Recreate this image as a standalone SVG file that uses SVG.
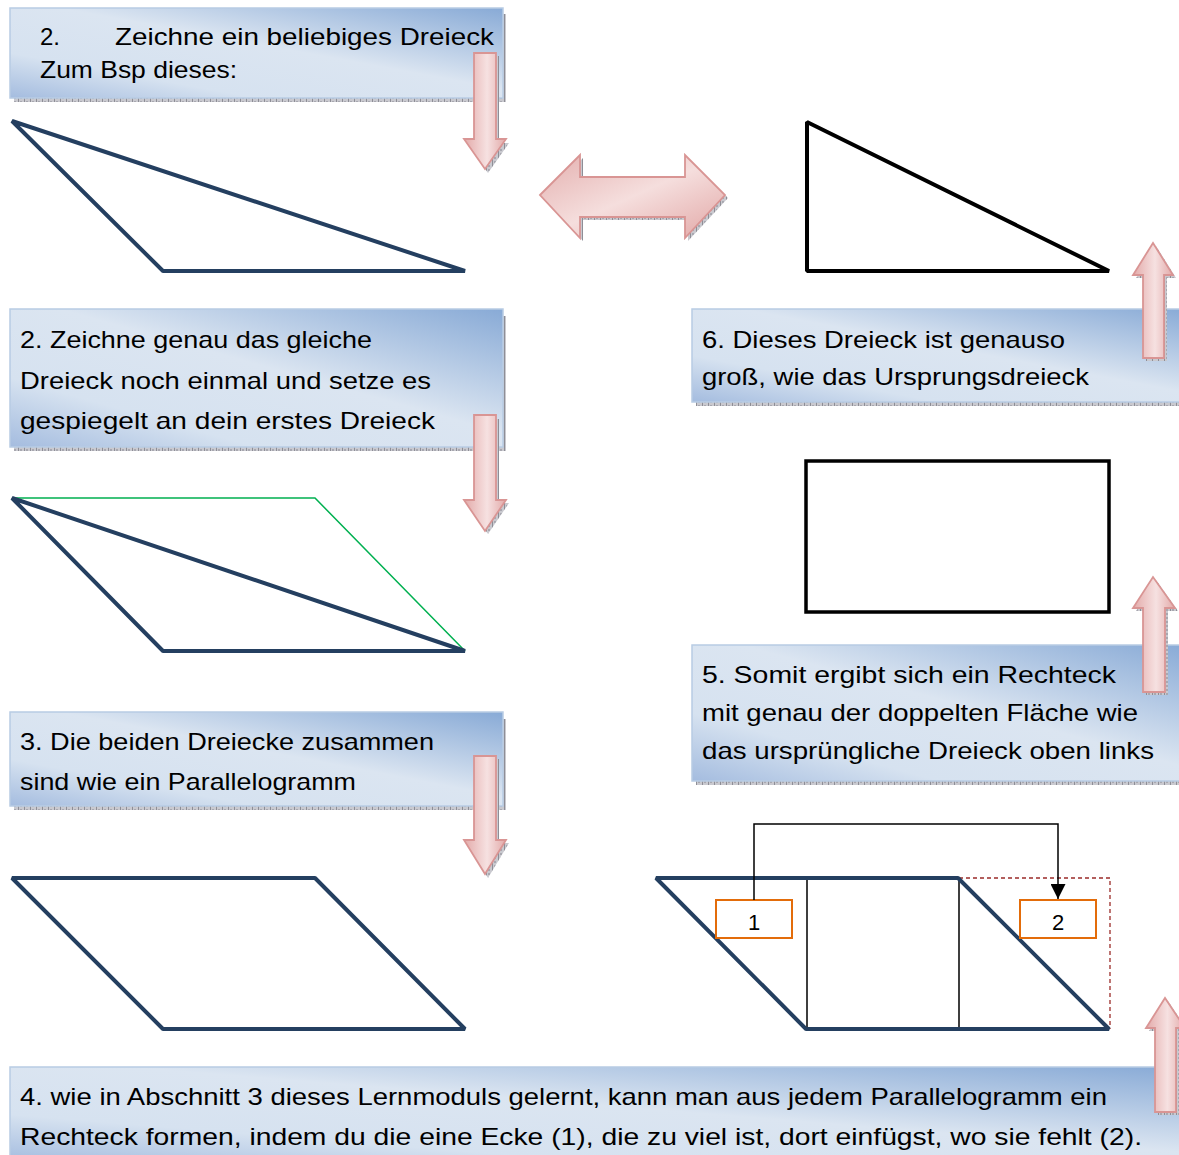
<svg xmlns="http://www.w3.org/2000/svg" width="1179" height="1155" viewBox="0 0 1179 1155">
  <defs>
    <linearGradient id="boxFill" x1="1" y1="0" x2="0" y2="1">
      <stop offset="0" stop-color="#88aad6"/>
      <stop offset="0.45" stop-color="#dbe5f1"/>
      <stop offset="0.75" stop-color="#d6e2f0"/>
      <stop offset="1" stop-color="#a4bcdf"/>
    </linearGradient>
    <linearGradient id="arrowV" x1="0" y1="0" x2="1" y2="0">
      <stop offset="0" stop-color="#e3aaa9"/>
      <stop offset="0.55" stop-color="#f6e1e1"/>
      <stop offset="1" stop-color="#e2a9a8"/>
    </linearGradient>
    <linearGradient id="arrowH" x1="0" y1="0" x2="1" y2="1">
      <stop offset="0" stop-color="#e4b0af"/>
      <stop offset="0.5" stop-color="#f5dedd"/>
      <stop offset="1" stop-color="#e2a7a6"/>
    </linearGradient>
    <pattern id="shadowTex" width="6" height="4" patternUnits="userSpaceOnUse">
      <rect width="6" height="4" fill="#c9c9cf"/>
      <rect x="0" y="0" width="1" height="4" fill="#8e8e96"/>
      <rect x="2" y="1" width="2" height="2" fill="#a8a8b0"/>
    </pattern>
    <marker id="arrowHead" viewBox="0 0 10 10" refX="10" refY="5" markerWidth="15" markerHeight="15" markerUnits="userSpaceOnUse" orient="auto">
      <path d="M0,0 L10,5 L0,10 Z" fill="#000"/>
    </marker>
  </defs>
  <style>
    .box { fill: url(#boxFill); stroke: #b8cce4; stroke-width: 1.5; }
    .shadow { fill: url(#shadowTex); }
    .txt { font-family: "Liberation Sans", "Noto Sans", sans-serif; font-size: 24px; fill: #000; }
    .narrow { font-family: "Liberation Sans Narrow", "Liberation Sans", sans-serif; font-size: 24px; fill: #000; }
    .arrow { fill: url(#arrowV); stroke: #d99594; stroke-width: 1.8; stroke-linejoin: miter; }
    .arrowH { fill: url(#arrowH); stroke: #d99594; stroke-width: 1.8; }
    .navy { fill: none; stroke: #243f60; stroke-width: 4; stroke-linejoin: bevel; }
    .blk { fill: none; stroke: #000; stroke-width: 4; stroke-linejoin: bevel; }
    .thin { fill: none; stroke: #000; stroke-width: 1.5; }
    .label { fill: #fff; stroke: #e36c0a; stroke-width: 2; }
    .num { font-family: "Liberation Sans", sans-serif; font-size: 22px; fill: #000; text-anchor: middle; }
  </style>

  <rect width="1179" height="1155" fill="#fff"/>

  <!-- Step boxes -->
  <g id="box-step1">
    <rect class="shadow" x="14" y="97" width="492" height="5"/>
    <rect class="shadow" x="502" y="14" width="4" height="88"/>
    <rect class="box" x="10" y="8" width="493" height="90"/>
    <text class="txt" x="40" y="45">2.</text>
    <text class="txt" x="115" y="45" textLength="379" lengthAdjust="spacingAndGlyphs">Zeichne ein beliebiges Dreieck</text>
    <text class="txt" x="40" y="78" textLength="197" lengthAdjust="spacingAndGlyphs">Zum Bsp dieses:</text>
  </g>

  <g id="box-step2">
    <rect class="shadow" x="14" y="446" width="492" height="5"/>
    <rect class="shadow" x="502" y="316" width="4" height="135"/>
    <rect class="box" x="10" y="309" width="493" height="138"/>
    <text class="txt" x="20" y="348" textLength="352" lengthAdjust="spacingAndGlyphs">2. Zeichne genau das gleiche</text>
    <text class="txt" x="20" y="389" textLength="411" lengthAdjust="spacingAndGlyphs">Dreieck noch einmal und setze es</text>
    <text class="txt" x="20" y="429" textLength="415" lengthAdjust="spacingAndGlyphs">gespiegelt an dein erstes Dreieck</text>
  </g>

  <g id="box-step3">
    <rect class="shadow" x="14" y="805" width="492" height="5"/>
    <rect class="shadow" x="502" y="719" width="4" height="91"/>
    <rect class="box" x="10" y="712" width="493" height="94"/>
    <text class="txt" x="20" y="750" textLength="414" lengthAdjust="spacingAndGlyphs">3. Die beiden Dreiecke zusammen</text>
    <text class="txt" x="20" y="790" textLength="336" lengthAdjust="spacingAndGlyphs">sind wie ein Parallelogramm</text>
  </g>

  <g id="box-step4">
    <rect class="box" x="10" y="1067" width="1175" height="95"/>
    <text class="narrow" x="20" y="1105" textLength="1087" lengthAdjust="spacingAndGlyphs">4. wie in Abschnitt 3 dieses Lernmoduls gelernt, kann man aus jedem Parallelogramm ein</text>
    <text class="narrow" x="20" y="1145" textLength="1122" lengthAdjust="spacingAndGlyphs">Rechteck formen, indem du die eine Ecke (1), die zu viel ist, dort einfügst, wo sie fehlt (2).</text>
  </g>

  <g id="box-step5">
    <rect class="shadow" x="696" y="780" width="490" height="5"/>
    <rect class="box" x="692" y="645" width="495" height="136"/>
    <text class="txt" x="702" y="683" textLength="414" lengthAdjust="spacingAndGlyphs">5. Somit ergibt sich ein Rechteck</text>
    <text class="txt" x="702" y="721" textLength="436" lengthAdjust="spacingAndGlyphs">mit genau der doppelten Fläche wie</text>
    <text class="txt" x="702" y="759" textLength="452" lengthAdjust="spacingAndGlyphs">das ursprüngliche Dreieck oben links</text>
  </g>

  <g id="box-step6">
    <rect class="shadow" x="696" y="401" width="490" height="5"/>
    <rect class="box" x="692" y="309" width="495" height="93"/>
    <text class="txt" x="702" y="348" textLength="363" lengthAdjust="spacingAndGlyphs">6. Dieses Dreieck ist genauso</text>
    <text class="txt" x="702" y="385" textLength="387" lengthAdjust="spacingAndGlyphs">groß, wie das Ursprungsdreieck</text>
  </g>

  <!-- Figures -->
  <g id="fig-triangle">
    <path class="navy" d="M12,121 L163,271 L465,271 Z"/>
  </g>

  <g id="fig-mirrored">
    <path d="M12,498 L315,498 L465,651" fill="none" stroke="#00b050" stroke-width="1.5"/>
    <path class="navy" d="M12,498 L163,651 L465,651 Z"/>
  </g>

  <g id="fig-parallelogram">
    <path class="navy" d="M12,878 L315,878 L465,1029 L163,1029 Z"/>
  </g>

  <g id="fig-transform">
    <path class="thin" d="M807,879 V1029 M959,879 V1029"/>
    <path d="M959,878 H1110 V1029" fill="none" stroke="#9b2b28" stroke-width="1.3" stroke-dasharray="4,3"/>
    <path class="navy" d="M656,878 L958,878 L1109,1029 L806,1029 Z"/>
  </g>

  <g id="fig-right-triangle">
    <path class="blk" d="M807,122 L807,271 L1109,271 Z"/>
  </g>

  <g id="fig-rectangle">
    <rect x="806" y="461" width="303" height="151" fill="none" stroke="#000" stroke-width="3.5"/>
  </g>

  <g id="label-1">
    <rect class="label" x="716" y="900" width="76" height="38"/>
    <text class="num" x="754" y="930">1</text>
  </g>
  <g id="label-2">
    <rect class="label" x="1020" y="900" width="76" height="38"/>
    <text class="num" x="1058" y="930">2</text>
  </g>

  <!-- Connectors -->
  <g id="connectors">
    <!-- block arrows with their textured shadows -->
    <g class="arrow-shadows">
      <path class="shadow" d="M477,56 H499 V143 H509 L488,173 L467,143 H477 Z"/>
      <path class="shadow" d="M477,419 H499 V503 H509 L488,534 L467,503 H477 Z"/>
      <path class="shadow" d="M477,759 H499 V843 H509 L488,878 L467,843 H477 Z"/>
      <path class="shadow" d="M1146,361 V278 H1136 L1156,246 L1176,278 H1167 V361 Z"/>
      <path class="shadow" d="M1146,695 V611 H1136 L1156,580 L1178,611 H1168 V695 Z"/>
      <path class="shadow" d="M1158,1115 V1031 H1149 L1168,1001 L1188,1031 H1179 V1115 Z"/>
      <path class="shadow" d="M543,198 L583,158 V180 H688 V158 L728,198 L688,241 V220 H583 V241 Z"/>
    </g>
    <path class="arrow" d="M474,53 H496 V139 H506 L485,169 L464,139 H474 Z"/>
    <path class="arrow" d="M474,415 H496 V500 H506 L485,531 L464,500 H474 Z"/>
    <path class="arrow" d="M474,756 H496 V840 H506 L485,874 L464,840 H474 Z"/>
    <path class="arrow" d="M1143,358 V275 H1133 L1153,243 L1173,275 H1164 V358 Z"/>
    <path class="arrow" d="M1143,692 V608 H1133 L1153,577 L1175,608 H1165 V692 Z"/>
    <path class="arrow" d="M1155,1112 V1028 H1146 L1165,998 L1185,1028 H1176 V1112 Z"/>
    <path class="arrowH" d="M540,195 L580,155 V177 H685 V155 L725,195 L685,238 V217 H580 V238 Z"/>

    <!-- corner move from 1 to 2 -->
    <path d="M754,900 V824 H1058 V899" fill="none" stroke="#000" stroke-width="1.5" marker-end="url(#arrowHead)"/>
  </g>
</svg>
